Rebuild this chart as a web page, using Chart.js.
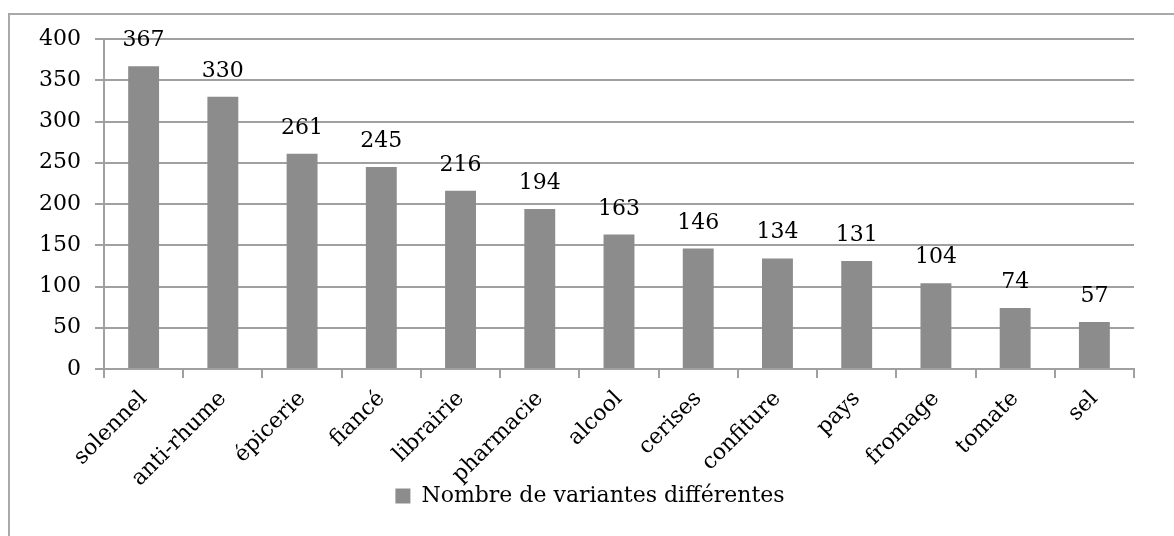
<!DOCTYPE html>
<html>
<head>
<meta charset="utf-8">
<script src="https://cdn.jsdelivr.net/npm/chart.js@4"></script>
<style>
  html, body { margin: 0; padding: 0; background: #fff; overflow: hidden; }
  #wrap { position: relative; width: 1174px; height: 536px; }
  #frame { position: absolute; left: 8px; top: 13px; width: 1200px; height: 600px; border: 2px solid #a9a9a9; box-sizing: border-box; }
  #chart { position: absolute; left: 0; top: 0; }
</style>
</head>
<body>
<div id="wrap">
  <div id="frame"></div>
  <canvas id="chart" width="1174" height="536"></canvas>
</div>
<script>
const categories = ['solennel', 'anti-rhume', 'épicerie', 'fiancé', 'librairie', 'pharmacie', 'alcool', 'cerises', 'confiture', 'pays', 'fromage', 'tomate', 'sel'];
const values = [367, 330, 261, 245, 216, 194, 163, 146, 134, 131, 104, 74, 57];
const series_name = 'Nombre de variantes différentes';
const y_min = 0;
const y_max = 400;
const y_step = 50;

const font_family = '"DejaVu Serif", "Liberation Serif", serif';
const font_size = 22;
const bar_color = '#8c8c8c';
const grid_color = '#a0a0a0';

// valeurs au-dessus des barres
const barValues = {
    id: 'barValues',
    afterDatasetsDraw: (chart) => {
        const {ctx} = chart;
        const meta = chart.getDatasetMeta(0);
        ctx.save();
        ctx.fillStyle = '#000';
        ctx.font = font_size + 'px ' + font_family;
        ctx.textAlign = 'center';
        ctx.textBaseline = 'alphabetic';
        meta.data.forEach((bar, i) => {
            ctx.fillText(values[i], bar.x, bar.y - 20);
        });
        ctx.restore();
    }
};

// les étiquettes inclinées débordent sur la légende, comme dans l'original
const unclipLabels = {
    id: 'unclipLabels',
    beforeDraw: (chart) => {
        chart.scales.x.bottom = chart.height;
        chart.scales.y.left = 0;
    }
};

Chart.defaults.font.family = font_family;
Chart.defaults.color = '#000';

let chart = new Chart(document.getElementById('chart'), {
    type: 'bar',
    data: {
        labels: categories,
        datasets: [{
            label: series_name,
            data: values,
            backgroundColor: bar_color,
            borderWidth: 0,
            barPercentage: 0.39,
            categoryPercentage: 1
        }]
    },
    options: {
        responsive: false,
        animation: false,
        layout: {
            padding: { left: 46, top: 39, right: 40, bottom: 19 }
        },
        scales: {
            x: {
                grid: { drawOnChartArea: false, color: grid_color, lineWidth: 2, tickLength: 9, offset: true },
                border: { color: grid_color, width: 2 },
                ticks: { font: { size: font_size }, maxRotation: 45, minRotation: 45, padding: 8, color: '#000' },
                afterFit: (scale) => { scale.height = 106; }
            },
            y: {
                min: y_min,
                max: y_max,
                grid: { color: grid_color, lineWidth: 2, tickLength: 9 },
                border: { color: grid_color, width: 2 },
                ticks: { stepSize: y_step, font: { size: font_size }, padding: 14, color: '#000' },
                afterFit: (scale) => { scale.width = 58; }
            }
        },
        plugins: {
            legend: {
                position: 'bottom',
                labels: {
                    font: { size: font_size },
                    boxWidth: 15,
                    boxHeight: 15,
                    padding: 10,
                    color: '#000'
                }
            },
            tooltip: { enabled: false }
        }
    },
    plugins: [barValues, unclipLabels]
});
</script>
</body>
</html>
